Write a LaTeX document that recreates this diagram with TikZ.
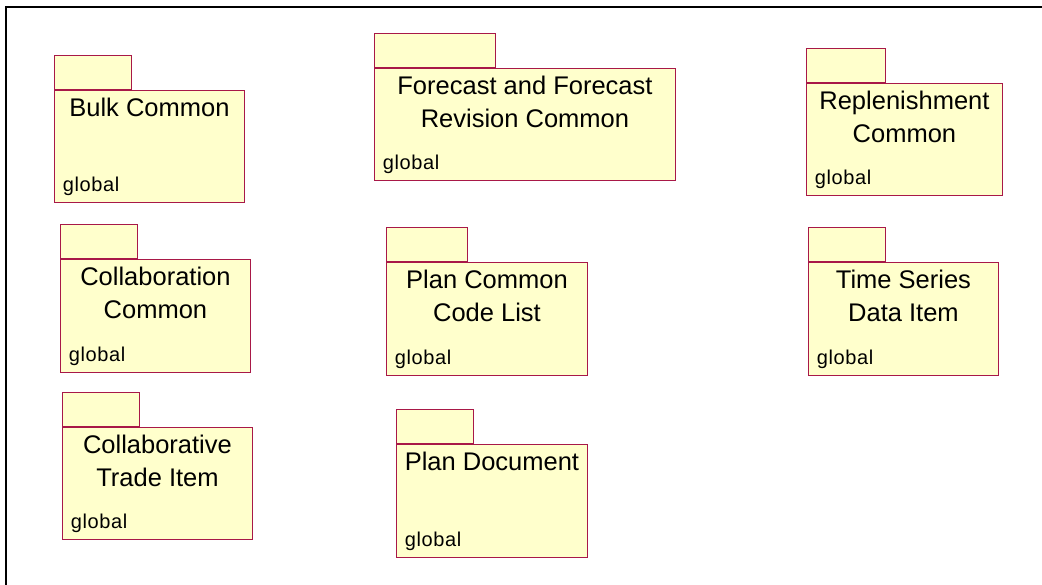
\documentclass[tikz,border=0pt]{standalone}
\usepackage{fontspec}
\setmainfont{Liberation Sans}
\usepackage{tikz}
\usetikzlibrary{positioning, calc}
\definecolor{pkgfill}{RGB}{255,255,204}
\definecolor{pkgline}{RGB}{168,24,72}
\tikzset{
  pkgbody/.style={draw=pkgline, fill=pkgfill, line width=0.9pt, inner sep=0pt},
  pkgtab/.style={pkgbody, minimum height=34.5pt},
  pkgtitle/.style={inner sep=0pt, align=center, font=\fontsize{25.5}{32.5}\selectfont},
  pkgscope/.style={inner sep=0pt, font=\fontsize{20}{22}\selectfont\addfontfeature{LetterSpace=3}}
}
\begin{document}
\begin{tikzpicture}[x=1pt, y=-1pt]
  \useasboundingbox (0,0) rectangle (1042,584);
  % frame
  \coordinate (frame-bl) at (6,590);
  \coordinate (frame-tl) at (6,7);
  \coordinate (frame-tr) at (1050,7);
  \draw[line width=2.5pt] (frame-bl) -- (frame-tl) -- (frame-tr);
  % packages
  \foreach \n/\x/\y/\w/\h/\tw/\title in {
      bulk/54/90/190/112/77/{Bulk Common},
      fcst/374/68/301/112/121/{Forecast and Forecast\\Revision Common},
      repl/806/83/196/112/79/{Replenishment\\Common},
      collab/60/259/190/113/77/{Collaboration\\Common},
      plancl/386/262/201/113/81/{Plan Common\\Code List},
      tsdi/808/262/190/113/77/{Time Series\\Data Item},
      cti/62/427/190/112/77/{Collaborative\\Trade Item},
      plandoc/396/444/191/113/77/{Plan Document}}{
    \node[pkgbody, minimum width=\w pt, minimum height=\h pt, anchor=north west]
      (\n) at (\x,\y) {};
    \node[pkgtab, minimum width=\tw pt, anchor=south west] (\n-tab) at (\n.north west) {};
    \node[pkgtitle, anchor=north] (\n-title) at ([yshift=-5.5pt]\n.north)
      {\rule{0pt}{21pt}\title};
    \node[pkgscope, anchor=base west] (\n-scope) at ([shift={(8.7pt,11pt)}]\n.south west) {global};
  }
\end{tikzpicture}
\end{document}
